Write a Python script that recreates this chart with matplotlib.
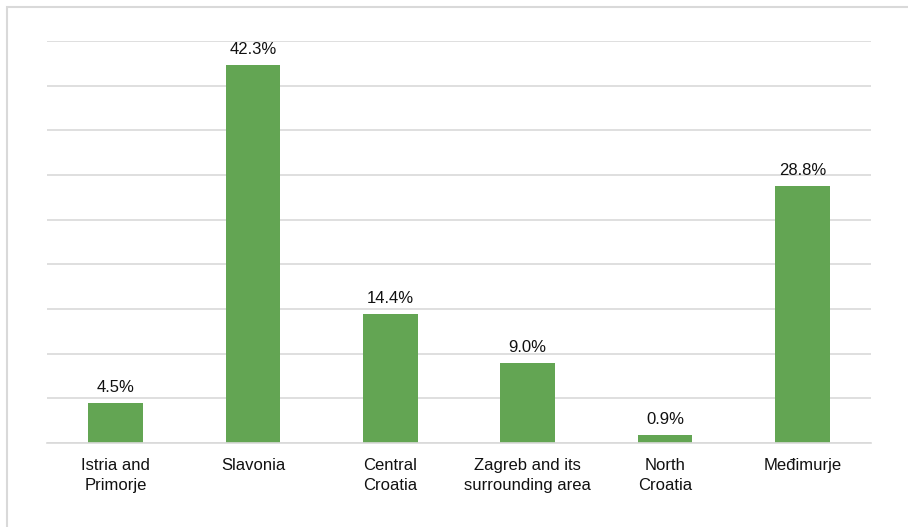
import matplotlib
matplotlib.use("Agg")
import matplotlib.pyplot as plt
from matplotlib.patches import Rectangle

regions = ["Istria and\nPrimorje", "Slavonia", "Central\nCroatia",
           "Zagreb and its\nsurrounding area", "North\nCroatia", "Međimurje"]
shares = [4.5, 42.3, 14.4, 9.0, 0.9, 28.8]
labels = ["4.5%", "42.3%", "14.4%", "9.0%", "0.9%", "28.8%"]

plt.rcParams["font.family"] = ["Liberation Sans", "DejaVu Sans"]

fig = plt.figure(figsize=(9.08, 5.27), dpi=100)
ax = fig.add_axes([47 / 908, 1 - 443 / 527, 824 / 908, 402 / 527])

x = range(len(regions))
ax.bar(x, shares, width=0.4, color="#63a553", zorder=2)
for xi, v, lab in zip(x, shares, labels):
    ax.text(xi, v + 0.9, lab, ha="center", va="bottom", fontsize=12, color="#111111")

ax.set_xlim(-0.5, len(regions) - 0.5)
ax.set_ylim(0, 45)
ax.set_yticks(range(0, 46, 5))
ax.set_yticklabels([])
ax.yaxis.grid(True, color="#d9d9d9", linewidth=1.2, zorder=0)
ax.tick_params(axis="y", length=0)
ax.tick_params(axis="x", length=0, pad=11)
ax.set_xticks(list(x))
ax.set_xticklabels(regions, fontsize=12, color="#111111", linespacing=1.4)
for s in ["top", "right", "left"]:
    ax.spines[s].set_visible(False)
ax.spines["bottom"].set_color("#d9d9d9")
ax.spines["bottom"].set_linewidth(1.2)

# outer frame (extends past right and bottom edges)
fig.patches.append(Rectangle((6.5 / 908, -0.1), 1.2, 1 - 6.5 / 527 + 0.1,
                             transform=fig.transFigure, fill=False,
                             edgecolor="#d9d9d9", linewidth=1.5))

fig.savefig("out.png", dpi=100)
